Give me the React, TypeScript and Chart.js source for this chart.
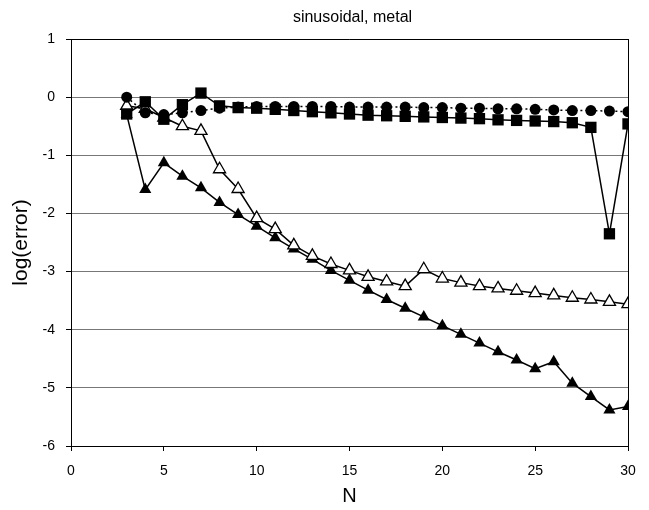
import React, { useEffect, useRef } from "react";
import { Chart, registerables } from "chart.js";
Chart.register(...registerables);

const chartTitle = "sinusoidal, metal";
const xAxisTitle = "N";
const yAxisTitle = "log(error)";
const nValues = [3, 4, 5, 6, 7, 8, 9, 10, 11, 12, 13, 14, 15, 16, 17, 18, 19, 20, 21, 22, 23, 24, 25, 26, 27, 28, 29, 30];
const circleSeries = [0.0, -0.27, -0.3, -0.27, -0.23, -0.19, -0.17, -0.16, -0.16, -0.16, -0.16, -0.16, -0.17, -0.17, -0.17, -0.17, -0.18, -0.18, -0.19, -0.19, -0.2, -0.2, -0.21, -0.22, -0.23, -0.23, -0.24, -0.25];
const squareSeries = [-0.29, -0.08, -0.38, -0.13, 0.07, -0.15, -0.18, -0.19, -0.21, -0.23, -0.25, -0.27, -0.29, -0.31, -0.32, -0.33, -0.34, -0.35, -0.36, -0.37, -0.39, -0.4, -0.41, -0.42, -0.44, -0.52, -2.35, -0.46];
const openTriangleSeries = [-0.15, -0.2, -0.35, -0.5, -0.58, -1.24, -1.58, -2.08, -2.27, -2.55, -2.73, -2.87, -2.98, -3.09, -3.17, -3.25, -2.96, -3.12, -3.19, -3.25, -3.29, -3.33, -3.37, -3.41, -3.45, -3.48, -3.52, -3.56];
const filledTriangleSeries = [-0.3, -1.59, -1.13, -1.36, -1.56, -1.81, -2.02, -2.22, -2.42, -2.61, -2.79, -2.98, -3.15, -3.32, -3.48, -3.63, -3.78, -3.93, -4.08, -4.23, -4.38, -4.52, -4.67, -4.55, -4.92, -5.15, -5.38, -5.32];
const xMin = 0, xMax = 30, xStep = 5;
const yMin = -6, yMax = 1, yStep = 1;

const FONT = "'Liberation Sans', Arial, sans-serif";

const toPoints = (ys: number[]) => nValues.map((n, i) => ({ x: n, y: ys[i] }));

const framePlugin = {
  id: "frameAndTitle",
  beforeDatasetsDraw(chart: any) {
    const { ctx, chartArea } = chart;
    ctx.save();
    ctx.strokeStyle = "#000";
    ctx.lineWidth = 1;
    ctx.beginPath();
    ctx.moveTo(chartArea.left, Math.round(chartArea.top) + 0.5);
    ctx.lineTo(chartArea.right, Math.round(chartArea.top) + 0.5);
    ctx.moveTo(Math.round(chartArea.right) + 0.5, chartArea.top);
    ctx.lineTo(Math.round(chartArea.right) + 0.5, chartArea.bottom);
    ctx.stroke();
    ctx.restore();
  },
  afterDraw(chart: any) {
    const { ctx, chartArea } = chart;
    ctx.save();
    ctx.fillStyle = "#000";
    ctx.font = `16px ${FONT}`;
    ctx.textAlign = "center";
    ctx.textBaseline = "middle";
    ctx.fillText(chartTitle, (chartArea.left + chartArea.right) / 2 + 3, 18);
    ctx.restore();
  },
};

export default function App() {
  const ref = useRef<HTMLCanvasElement>(null);
  useEffect(() => {
    if (!ref.current) return;
    const chart = new Chart(ref.current, {
      type: "line",
      data: {
        datasets: [
          {
            label: "squares",
            data: toPoints(squareSeries),
            borderColor: "#000",
            backgroundColor: "#000",
            borderWidth: 1.5,
            pointStyle: "rect",
            pointRadius: 8,
            pointBorderWidth: 0,
            order: 1,
          },
          {
            label: "circles",
            data: toPoints(circleSeries),
            borderColor: "#000",
            backgroundColor: "#000",
            borderWidth: 1.5,
            borderDash: [2, 3],
            pointStyle: "circle",
            pointRadius: 5.5,
            pointBorderWidth: 0,
            order: 2,
          },
          {
            label: "open triangles",
            data: toPoints(openTriangleSeries),
            borderColor: "#000",
            backgroundColor: "#fff",
            pointBackgroundColor: "#fff",
            pointBorderColor: "#000",
            borderWidth: 1.5,
            pointStyle: "triangle",
            pointRadius: 7,
            pointBorderWidth: 1.3,
            order: 3,
          },
          {
            label: "filled triangles",
            data: toPoints(filledTriangleSeries),
            borderColor: "#000",
            backgroundColor: "#000",
            borderWidth: 1.5,
            pointStyle: "triangle",
            pointRadius: 7,
            pointBorderWidth: 0,
            order: 4,
          },
        ],
      },
      options: {
        responsive: false,
        animation: false,
        events: [],
        layout: { padding: { top: 39, right: 21, bottom: 0, left: 0 } },
        plugins: { legend: { display: false }, title: { display: false }, tooltip: { enabled: false } },
        scales: {
          x: {
            type: "linear",
            min: xMin,
            max: xMax,
            ticks: { stepSize: xStep, color: "#000", font: { family: FONT, size: 14 }, padding: 12, maxRotation: 0 },
            grid: { drawOnChartArea: false, drawTicks: true, tickLength: 5, color: "#000" },
            border: { display: true, color: "#000", width: 1 },
            title: { display: true, text: xAxisTitle, color: "#000", font: { family: FONT, size: 20 }, padding: { top: 4, bottom: 2 } },
            afterFit: (scale: any) => { scale.height = 64; },
          },
          y: {
            type: "linear",
            min: yMin,
            max: yMax,
            ticks: { stepSize: yStep, color: "#000", font: { family: FONT, size: 14 }, padding: 11 },
            grid: { color: "#777", tickColor: "#000", tickLength: 5, lineWidth: 1 },
            border: { display: true, color: "#000", width: 1 },
            title: { display: true, text: yAxisTitle, color: "#000", font: { family: FONT, size: 21 }, padding: { top: 9, bottom: 4 } },
            afterFit: (scale: any) => { scale.width = 71; },
          },
        },
      },
      plugins: [framePlugin],
    });
    return () => chart.destroy();
  }, []);
  return (
    <div style={{ position: "absolute", left: 0, top: 0, width: 649, height: 510, background: "#fff" }}>
      <canvas ref={ref} width={649} height={510} />
    </div>
  );
}
